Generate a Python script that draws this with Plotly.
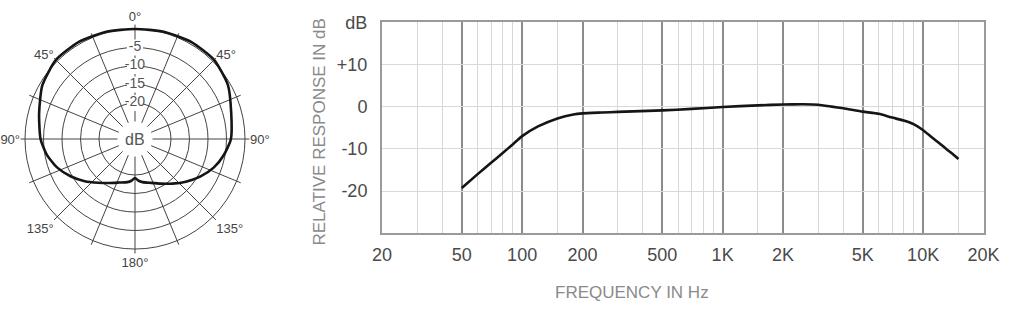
import plotly.graph_objects as go

# ---------------- data ----------------
# polar pattern (degrees clockwise from front, level in dB)
pol_theta = [0, 15, 30, 45, 60, 75, 90, 100, 110, 120, 130, 140, 150, 160, 170, 175, 180,
             185, 190, 200, 210, 220, 230, 240, 250, 260, 270, 285, 300, 315, 330, 345, 360]
pol_db = [0.0, 0.3, 0.6, 0.5, -0.7, -2.8, -3.8, -5.3, -7.1, -9.4, -11.8, -14.0, -15.8, -17.1, -17.9, -18.4, -19.2,
          -18.4, -17.9, -17.2, -16.0, -14.3, -12.0, -9.6, -7.3, -5.5, -4.2, -2.9, -0.8, 0.5, 0.6, 0.3, 0.0]

ring_values = [0, -5, -10, -15, -20, -25]
ring_labels_val = [-5, -10, -15, -20]
ring_labels_txt = ["-5", "-10", "-15", "-20"]
spoke_angles = [0, 22.5, 45, 67.5, 90, 112.5, 135, 157.5, 180, 202.5, 225, 247.5, 270, 292.5, 315, 337.5]
spoke_text = ["0°", "", "45°", "", "90°", "", "135°", "", "180°", "", "135°", "", "90°", "", "45°", ""]

# frequency response
freq = [50, 60, 70, 80, 90, 100, 120, 150, 180, 200, 250, 300, 500, 700, 1000, 1500, 2000, 2500,
        3000, 3500, 4000, 5000, 6000, 7000, 8000, 9000, 10000, 11000, 12000, 13000, 14000, 15000]
resp = [-19.3, -16.0, -13.3, -11.0, -8.9, -7.0, -4.7, -2.8, -1.85, -1.6, -1.4, -1.25, -0.9, -0.55, -0.1, 0.3, 0.5, 0.55,
        0.45, 0.0, -0.4, -1.2, -1.7, -2.6, -3.3, -4.2, -5.6, -7.2, -8.6, -10.0, -11.2, -12.4]

x_major = [20, 50, 100, 200, 500, 1000, 2000, 5000, 10000, 20000]
x_major_txt = ["20", "50", "100", "200", "500", "1K", "2K", "5K", "10K", "20K"]
x_minor = [30, 40, 60, 70, 80, 90, 150, 300, 400, 600, 700, 800, 900, 1500,
           3000, 4000, 6000, 7000, 8000, 9000, 15000]
y_ticks = [20, 10, 0, -10, -20]
y_ticks_txt = ["dB", "+10", "0", "-10", "-20"]

# ---------------- layout geometry ----------------
W, H = 1024, 309
FONT = "Liberation Sans, Arial, sans-serif"

# polar placement (pixels)
pcx, pcy = 135.0, 139.0
r_outer_db = 1.2
r_min_db = -25
px_per_db = 3.7
R = 110 + px_per_db * r_outer_db
r_hole = 110 + px_per_db * r_min_db
pdom_x = [(pcx - R) / W, (pcx + R) / W]
pdom_y = [(H - pcy - R) / H, (H - pcy + R) / H]

# cartesian placement (pixels)
xl, xr = 382.0, 983.5
yt, yb = 22.2, 233.2

fig = go.Figure()

fig.add_trace(go.Scatterpolar(
    r=pol_db, theta=pol_theta, mode="lines",
    line=dict(color="#151515", width=2.6, shape="spline", smoothing=0.6),
    hoverinfo="skip", showlegend=False, subplot="polar"))

fig.add_trace(go.Scatterpolar(
    r=ring_labels_val, theta=[0] * len(ring_labels_val), mode="markers",
    marker=dict(symbol="square", size=16, color="white"),
    hoverinfo="skip", showlegend=False, subplot="polar"))

fig.add_trace(go.Scatterpolar(
    r=ring_labels_val, theta=[0] * len(ring_labels_val), mode="text",
    text=ring_labels_txt, textfont=dict(family=FONT, size=14, color="#555"),
    hoverinfo="skip", showlegend=False, subplot="polar"))

fig.add_trace(go.Scatter(
    x=freq, y=resp, mode="lines",
    line=dict(color="#151515", width=2.6, shape="spline", smoothing=0.5),
    hoverinfo="skip", showlegend=False))

fig.update_layout(
    width=W, height=H, autosize=False,
    margin=dict(l=0, r=0, t=0, b=0, autoexpand=False),
    paper_bgcolor="white", plot_bgcolor="white",
    font=dict(family=FONT, color="#444"),
    polar=dict(
        domain=dict(x=pdom_x, y=pdom_y),
        hole=r_hole / R,
        bgcolor="white",
        radialaxis=dict(range=[r_min_db, r_outer_db], tickvals=ring_values,
                        showticklabels=False, ticks="", showline=False,
                        gridcolor="#444", gridwidth=1.4, angle=90),
        angularaxis=dict(rotation=90, direction="clockwise",
                         tickmode="array", tickvals=spoke_angles, ticktext=spoke_text,
                         ticks="", showline=False,
                         gridcolor="#444", gridwidth=1.4,
                         tickfont=dict(family=FONT, size=13, color="#444")),
    ),
    xaxis=dict(
        type="log", domain=[xl / W, xr / W], automargin=False,
        range=[1.30103, 4.30103],
        tickmode="array", tickvals=x_major, ticktext=x_major_txt,
        tickfont=dict(family=FONT, size=18, color="#4a4a4a"),
        showgrid=True, gridcolor="#8c8c8c", gridwidth=1.8,
        showline=True, linecolor="#9a9a9a", linewidth=2, mirror=True,
        ticks="", ticklabelstandoff=4, zeroline=False,
        minor=dict(tickvals=x_minor, showgrid=True, gridcolor="#d6d6d6", gridwidth=1.3, ticks=""),
    ),
    yaxis=dict(
        domain=[(H - yb) / H, (H - yt) / H], automargin=False,
        range=[-30, 20],
        tickmode="array", tickvals=y_ticks, ticktext=y_ticks_txt,
        tickfont=dict(family=FONT, size=18, color="#4a4a4a"),
        showgrid=True, gridcolor="#d9d9d9", gridwidth=1.3,
        showline=True, linecolor="#9a9a9a", linewidth=2, mirror=True,
        ticks="", ticklabelstandoff=9, zeroline=False,
    ),
    annotations=[
        dict(text="dB", x=(pdom_x[0] + pdom_x[1]) / 2, y=(pdom_y[0] + pdom_y[1]) / 2,
             xref="paper", yref="paper", showarrow=False, xanchor="center", yanchor="middle",
             font=dict(family=FONT, size=16, color="#555")),
        dict(text="RELATIVE RESPONSE IN dB", x=319 / W, y=(H - 132.5) / H,
             xref="paper", yref="paper", showarrow=False, textangle=-90,
             xanchor="center", yanchor="middle",
             font=dict(family=FONT, size=17, color="#8a8a8a")),
        dict(text="FREQUENCY IN Hz", x=632 / W, y=(H - 292) / H,
             xref="paper", yref="paper", showarrow=False,
             xanchor="center", yanchor="middle",
             font=dict(family=FONT, size=17, color="#8a8a8a")),
    ],
)

fig.write_html("out.html")
